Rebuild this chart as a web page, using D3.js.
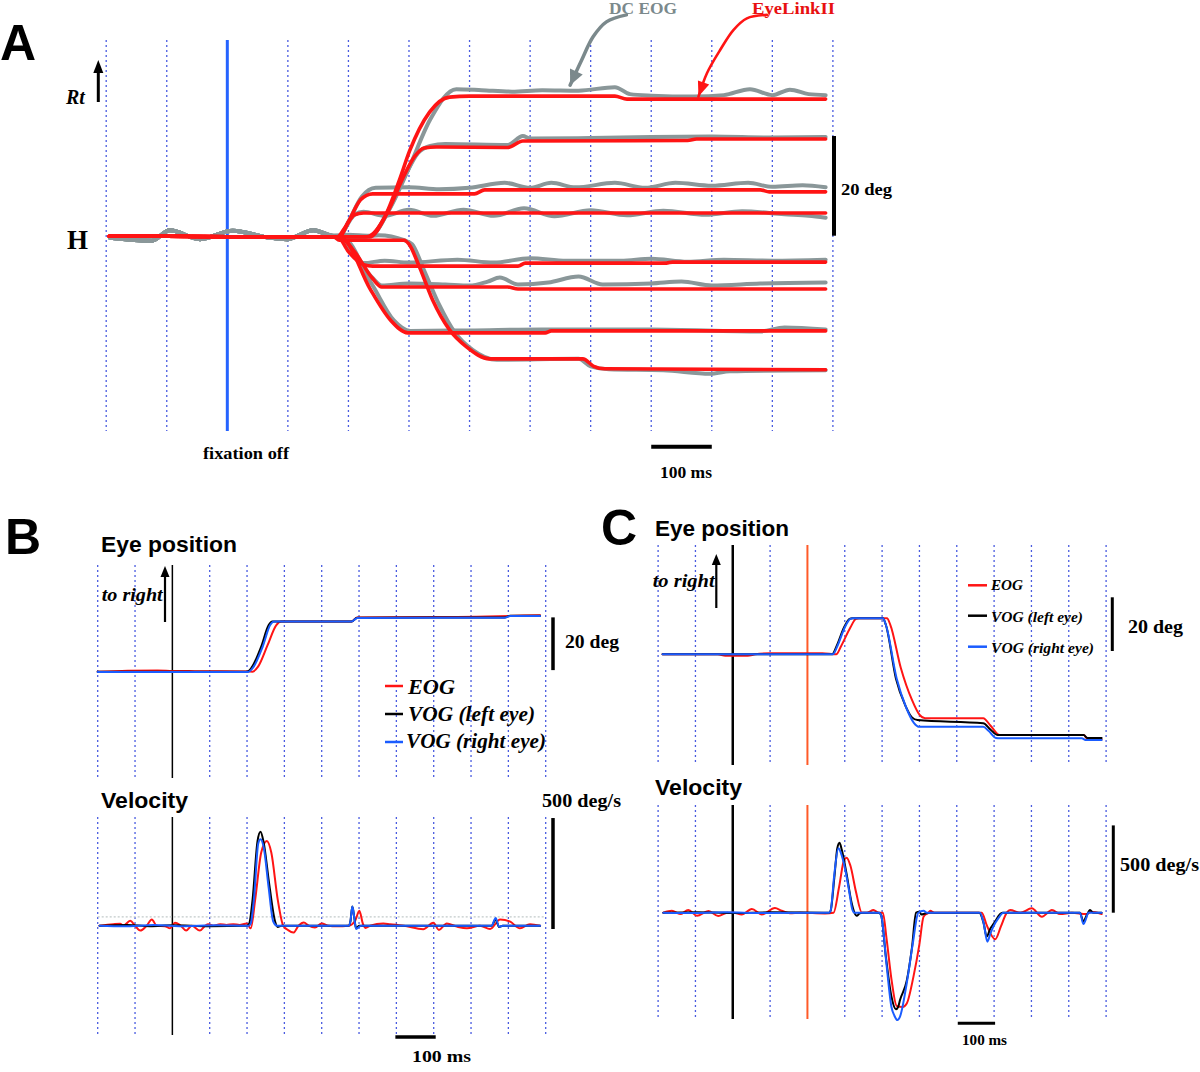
<!DOCTYPE html>
<html>
<head>
<meta charset="utf-8">
<script src="https://cdn.jsdelivr.net/npm/d3@7"></script>
<style>
  body { margin: 0; background: #fff; }
  svg { display: block; }
</style>
</head>
<body>
<script>
// <--Data--> //
// time grid (ms), shared by every panel
const gridTimes = [-200, -100, 0, 100, 200, 300, 400, 500, 600, 700, 800, 900, 1000];

// A: horizontal eye position (deg) vs time from fixation off (ms)
const aEogPre  = [[-194,-0.2],[-125,-0.8],[-95,1.3],[-45,-0.5],[9,1.2],[65,-0.1],[98,-0.5],[142,1.3],[172,0.2]];
const aLinkPre = [[-195,0.1],[-100,0.1],[0,0],[100,0],[175,0]];

const aEyeLink = [
  [[230,0],[260,4],[284,11.3],[301,17.2],[334,25],[367,28.0],[400,28.2],[640,28.2],[660,27.6],[988,27.6]],
  [[235,0],[265,5],[290,11.8],[310,16.2],[325,17.8],[345,18.0],[463,17.9],[488,19.2],[760,19.3],[775,19.6],[988,19.6]],
  [[185,0],[200,3],[220,7.4],[240,8.6],[408,8.6],[425,9.4],[880,9.4],[895,9.0],[988,9.0]],
  [[182,0],[195,2],[210,4.4],[225,4.75],[988,4.75]],
  [[182,0],[200,-3],[225,-5.6],[240,-5.9],[480,-5.9],[492,-5.3],[725,-5.3],[735,-5.1],[988,-5.1]],
  [[185,0],[210,-3],[240,-8.4],[255,-10.1],[463,-10.1],[480,-10.5],[988,-10.5]],
  [[193,-0.6],[235,-10.3],[270,-16.8],[298,-19.3],[525,-19.3],[535,-18.9],[988,-18.9]],
  [[185,-0.7],[292,-0.7],[300,-1.5],[317,-6.0],[339,-12.7],[367,-18.7],[395,-22.1],[433,-24.5],[587,-24.5],[605,-26.0],[623,-26.5],[988,-26.7]]
];

const aDcEog = [
  [[200,0.4],[235,0.2],[270,6],[300,13.8],[335,23.5],[378,29.6],[420,29.4],[470,29.1],[520,29.4],[580,29.3],[640,30.0],[665,28.6],[700,28.3],[770,28.1],[820,28.4],[863,29.6],[900,28.4],[929,29.5],[960,28.6],[988,28.4]],
  [[235,0],[265,5],[292,11.8],[315,16.8],[335,18.2],[360,18.6],[463,18.4],[488,20.2],[500,19.7],[600,19.8],[700,20.0],[800,20.1],[900,19.9],[988,20.0]],
  [[185,0],[200,3],[222,8],[245,9.8],[300,9.9],[350,9.5],[400,9.8],[458,10.8],[500,9.8],[535,10.8],[575,9.9],[640,10.8],[690,9.8],[740,10.8],[800,10.2],[860,10.8],[900,10.0],[950,10.3],[988,9.9]],
  [[182,0],[210,4.4],[225,5.0],[260,4.2],[300,5.4],[340,4.2],[390,5.4],[440,4.2],[490,5.7],[540,4.1],[600,5.3],[660,4.3],[720,5.2],[790,4.4],[850,5.1],[920,4.5],[960,4.2],[988,3.8]],
  [[182,0],[225,-5.3],[260,-4.8],[300,-5.2],[380,-4.6],[440,-5.2],[500,-4.3],[560,-4.8],[650,-4.8],[700,-4.4],[760,-5.0],[820,-4.6],[900,-4.8],[988,-4.6]],
  [[185,0],[240,-8.3],[255,-9.8],[300,-9.4],[360,-9.6],[400,-9.8],[430,-9.0],[450,-8.2],[480,-9.6],[530,-9.2],[580,-8.0],[620,-9.6],[700,-9.4],[750,-9.0],[800,-9.8],[880,-9.4],[988,-9.2]],
  [[190,0],[240,-9.8],[275,-16.8],[302,-18.9],[400,-18.8],[520,-18.6],[700,-18.6],[880,-19.0],[920,-18.2],[988,-18.6]],
  [[200,-0.4],[250,0.3],[292,-0.7],[305,-1.5],[325,-6.8],[350,-13.7],[375,-19.1],[405,-22.7],[445,-24.7],[580,-24.5],[600,-26.0],[630,-26.6],[720,-26.8],[797,-27.5],[830,-27.0],[988,-26.8]]
];

// A: label arrows (ms, deg)
const aEogArrow  = [[659,44.5],[626,43.1],[604,40.1],[585,35.4],[566,30.4]];
const aLinkArrow = [[891,44.5],[858,43.8],[836,41.5],[814,37.5],[792,32.8],[778,28.1]];

// B: eye position (deg) and velocity (deg/s)
const bPosEog  = [[-200,0],[-120,0.4],[-40,0.5],[0,0.3],[60,0.2],[200,0.1],[215,0],[230,2],[255,10],[278,17.5],[292,18.9],[480,18.9],[495,20.5],[700,20.6],[985,21.3]];
const bPosVogL = [[-200,0],[200,0],[212,1.5],[238,9.5],[258,17.6],[268,18.9],[480,18.9],[495,20.4],[890,20.5],[905,21.1],[985,21.1]];
const bPosVogR = [[-200,-0.1],[203,-0.1],[216,1.5],[242,9.5],[262,17.6],[273,18.9],[480,18.9],[495,20.3],[890,20.4],[905,21.0],[985,21.0]];

const bVelEog  = [[-195,0],[-158,7],[-140,9],[-131,0],[-113,22],[-100,0],[-86,-22],[-69,0],[-55,28],[-42,0],[-20,-2],[-6,-12],[7,13],[21,2],[37,-22],[52,0],[74,-22],[88,0],[96,7],[110,0],[128,7],[145,3],[163,7],[180,3],[199,10],[210,-12],[222,120],[238,330],[253,382],[265,330],[282,120],[297,0],[310,-20],[324,-31],[338,0],[352,14],[365,0],[382,-8],[400,10],[418,0],[440,-3],[472,0],[489,20],[501,67],[510,10],[517,-10],[530,0],[565,10],[583,7],[620,0],[672,-16],[699,13],[714,-19],[735,10],[762,-4],[789,-12],[824,0],[851,-15],[878,28],[905,18],[931,-12],[958,7],[985,0]];
const bVelVogL = [[-195,0],[-120,3],[-60,-2],[0,2],[100,-2],[200,0],[206,10],[215,120],[228,380],[236,423],[244,380],[260,180],[275,20],[282,-6],[292,0],[472,0],[477,20],[482,86],[487,40],[492,-12],[500,0],[855,0],[866,28],[875,-6],[885,0],[985,0]];
const bVelVogR = [[-195,0],[-130,-3],[-50,3],[20,-2],[120,2],[205,0],[210,10],[219,130],[230,370],[236,389],[245,350],[258,170],[270,20],[280,0],[472,0],[477,20],[482,86],[487,40],[492,-15],[502,-3],[507,0],[855,0],[866,35],[875,-5],[885,0],[985,0]];
const bVelThreshold = 40;

// C: eye position (deg) and velocity (deg/s)
const cPosEog  = [[-188,0],[-40,0],[-20,-0.5],[40,-0.5],[60,0],[100,0.4],[240,0.4],[277,0],[290,3],[315,10],[330,13.2],[338,13.4],[413,13.4],[422,11],[450,-5],[480,-17],[500,-22.5],[515,-23.8],[671,-23.8],[690,-26.5],[715,-30.1],[940,-30.1],[950,-31.5],[988,-31.7]];
const cPosVogL = [[-188,0],[266,0],[278,3],[298,10],[313,13.2],[320,13.4],[402,13.4],[410,11],[437,-9],[462,-19],[480,-23.5],[495,-24.5],[671,-25.7],[690,-28],[710,-30.1],[940,-30.1],[950,-31.2],[988,-31.2]];
const cPosVogR = [[-188,0],[268,0],[280,3],[300,10],[315,13.2],[322,13.4],[402,13.4],[410,11],[439,-9],[465,-20],[485,-25.5],[500,-27],[671,-27],[685,-28.5],[705,-31.2],[716,-31.3],[935,-31.3],[945,-31.9],[988,-31.9]];

const cVelEog  = [[-186,0],[-163,11],[-141,-8],[-119,15],[-96,-17],[-65,10],[-39,-19],[-15,0],[2,0],[24,-11],[51,21],[78,-10],[113,27],[131,11],[153,-3],[180,0],[247,-4],[270,0],[285,150],[298,300],[305,315],[315,270],[330,120],[346,0],[360,0],[377,15],[390,0],[402,0],[412,-150],[425,-380],[439,-534],[455,-540],[466,-520],[484,-366],[500,-180],[511,-23],[524,0],[529,11],[540,0],[667,0],[680,-70],[703,-152],[718,-80],[734,0],[743,15],[770,0],[801,25],[828,-23],[855,15],[877,-8],[908,0],[948,-8],[960,5],[988,-8]];
const cVelVogL = [[-186,0],[-100,3],[0,-2],[100,2],[258,0],[262,10],[272,200],[280,370],[286,401],[292,360],[305,220],[318,60],[326,0],[332,-18],[340,-3],[348,0],[392,0],[398,-20],[410,-250],[425,-480],[437,-553],[443,-540],[448,-500],[466,-390],[480,-200],[491,0],[500,5],[505,-10],[515,-5],[530,0],[660,0],[672,-60],[680,-137],[690,-90],[700,-60],[715,-10],[722,0],[930,0],[939,-50],[948,-15],[957,15],[965,0],[988,0]];
const cVelVogR = [[-186,0],[-120,-2],[-20,2],[80,-2],[258,0],[262,10],[272,220],[283,369],[290,340],[300,260],[312,120],[320,20],[326,0],[392,0],[398,-20],[412,-300],[425,-540],[433,-590],[441,-615],[448,-595],[466,-404],[482,-180],[497,0],[511,11],[520,0],[662,0],[672,-60],[682,-166],[690,-120],[698,-80],[712,-30],[725,0],[930,0],[939,-65],[947,-30],[952,0],[988,0]];

// <--Setup--> //
const SERIF = "'Liberation Serif','Times New Roman',serif";
const SANS = "'Liberation Sans',Arial,sans-serif";
const RED = "#ff1414", BLUE = "#1a5cff", GRAY = "#8a9799", GRIDC = "#4a5ce0";

const svg = d3.select("body").append("svg").attr("width", 1200).attr("height", 1072);
svg.append("rect").attr("width", 1200).attr("height", 1072).attr("fill", "#fff");

function txt(x, y, s, o) {
  let t = svg.append("text").attr("x", x).attr("y", y).text(s)
    .attr("font-family", o.family || SERIF).attr("font-size", o.size)
    .attr("font-weight", o.weight || "bold").attr("font-style", o.style || "normal")
    .attr("fill", o.fill || "#000");
  if (o.len) t.attr("textLength", o.len).attr("lengthAdjust", "spacingAndGlyphs");
  return t;
}

function trace(g, data, x, y, color, w) {
  g.append("path").datum(data)
    .attr("d", d3.line().x(d => x(d[0])).y(d => y(d[1])).curve(d3.curveMonotoneX))
    .attr("fill", "none").attr("stroke", color).attr("stroke-width", w)
    .attr("stroke-linejoin", "round").attr("stroke-linecap", "round");
}

function grid(x, y0, y1, solid) {
  svg.append("g").selectAll("line").data(gridTimes.filter(t => !(t in solid))).enter().append("line")
    .attr("x1", d => x(d)).attr("x2", d => x(d)).attr("y1", y0).attr("y2", y1)
    .attr("stroke", GRIDC).attr("stroke-width", 1.3).attr("stroke-dasharray", "2,3");
  for (let t in solid) {
    svg.append("line").attr("x1", x(+t)).attr("x2", x(+t)).attr("y1", y0).attr("y2", y1)
      .attr("stroke", solid[t][0]).attr("stroke-width", solid[t][1]);
  }
}

function bar(x1, y1, x2, y2, w) {
  svg.append("line").attr("x1", x1).attr("y1", y1).attr("x2", x2).attr("y2", y2)
    .attr("stroke", "#000").attr("stroke-width", w);
}

function upArrow(x, yb, yt, w, hw, hh) {
  bar(x, yb, x, yt + hh - 2, w);
  svg.append("path").attr("d", `M${x},${yt}L${x - hw / 2},${yt + hh}L${x + hw / 2},${yt + hh}Z`).attr("fill", "#000");
}

// <--Panel A--> //
const xA = d3.scaleLinear().domain([-200, 1000]).range([106.2, 832.9]);
const yA = d3.scaleLinear().domain([0, 20]).range([236.7, 137.0]);
grid(xA, 40, 431, {0: ["#2563ff", 3]});

const gA = svg.append("g");
aDcEog.forEach(tr => trace(gA, aEogPre.concat(tr), xA, yA, GRAY, 4));
aEyeLink.forEach(tr => trace(gA, aLinkPre.concat(tr), xA, yA, RED, 3.6));

function labelArrow(pts, color, w, hl, hwid) {
  let p = pts.map(d => [xA(d[0]), yA(d[1])]);
  svg.append("path").attr("d", d3.line().curve(d3.curveCatmullRom)(p))
    .attr("fill", "none").attr("stroke", color).attr("stroke-width", w).attr("stroke-linecap", "round");
  let [a, b] = [p[p.length - 2], p[p.length - 1]];
  let dx = b[0] - a[0], dy = b[1] - a[1], L = Math.hypot(dx, dy);
  dx /= L; dy /= L;
  let bx = b[0] - dx * hl, by = b[1] - dy * hl;
  svg.append("path")
    .attr("d", `M${b[0]},${b[1]}L${bx - dy * hwid},${by + dx * hwid}L${bx + dy * hwid},${by - dx * hwid}Z`)
    .attr("fill", color);
}
labelArrow(aEogArrow, "#7b898c", 3.5, 15, 7);
labelArrow(aLinkArrow, RED, 2.6, 15, 6);

txt(609, 14, "DC EOG", {size: 16, fill: "#7b898c", len: 68});
txt(752, 14, "EyeLinkII", {size: 16, fill: "#e81010", len: 83});
txt(0, 60, "A", {family: SANS, size: 50});
txt(66, 104, "Rt", {size: 20, style: "italic"});
upArrow(98.3, 102, 60, 3, 10, 13);
txt(67, 249, "H", {size: 27});
txt(203, 459, "fixation off", {size: 16, len: 86});
bar(xA(700), 446.7, xA(800), 446.7, 4);
txt(660, 478, "100 ms", {size: 16, len: 52});
bar(834, yA(20.2), 834, yA(0.2), 4);
txt(841, 195, "20 deg", {size: 17, len: 51});

// <--Panel B--> //
const xB = d3.scaleLinear().domain([-200, 1000]).range([97.7, 545.7]);
const yBpos = d3.scaleLinear().domain([0, 20]).range([671.7, 618.7]);
const yBvel = d3.scaleLinear().domain([0, 500]).range([925.7, 814.7]);
grid(xB, 565, 778, {0: ["#000", 1.5]});
grid(xB, 817, 1035, {0: ["#000", 1.5]});
svg.append("line").attr("x1", xB(-200)).attr("x2", xB(1000)).attr("y1", yBvel(bVelThreshold)).attr("y2", yBvel(bVelThreshold))
  .attr("stroke", "#c2caca").attr("stroke-width", 1.2).attr("stroke-dasharray", "2,2");

const gB = svg.append("g");
trace(gB, bPosEog, xB, yBpos, RED, 2);
trace(gB, bPosVogL, xB, yBpos, "#000", 2);
trace(gB, bPosVogR, xB, yBpos, BLUE, 2);
trace(gB, bVelEog, xB, yBvel, RED, 2);
trace(gB, bVelVogL, xB, yBvel, "#000", 2);
trace(gB, bVelVogR, xB, yBvel, BLUE, 2);

txt(5, 554, "B", {family: SANS, size: 50});
txt(101, 552, "Eye position", {family: SANS, size: 22, len: 136});
txt(101, 808, "Velocity", {family: SANS, size: 22, len: 87});
txt(101.7, 601, "to right", {size: 19, style: "italic", len: 61});
upArrow(165, 622, 566, 2.2, 9, 11);
[["EOG", RED, 686, 694, 408, 47], ["VOG (left eye)", "#000", 714, 721, 408, 127], ["VOG (right eye)", BLUE, 742, 748, 406, 140]]
  .forEach(l => {
    svg.append("line").attr("x1", 385).attr("x2", 403).attr("y1", l[2]).attr("y2", l[2]).attr("stroke", l[1]).attr("stroke-width", 2.5);
    txt(l[4], l[3], l[0], {size: 20, style: "italic", len: l[5]});
  });
bar(553, yBpos(20.5), 553, yBpos(0.6), 3.5);
txt(565, 648, "20 deg", {size: 19, len: 54});
bar(553, yBvel(485), 553, yBvel(-15), 3.5);
txt(542, 807, "500 deg/s", {size: 18, len: 79});
bar(xB(600) - 1, 1037, xB(700) + 2, 1037, 3.5);
txt(412, 1062, "100 ms", {size: 17, len: 59});

// <--Panel C--> //
const xC = d3.scaleLinear().domain([-200, 1000]).range([658.1, 1106.1]);
const yCpos = d3.scaleLinear().domain([0, 20]).range([654.3, 600.6]);
const yCvel = d3.scaleLinear().domain([0, 500]).range([912.7, 825.4]);
grid(xC, 545, 765, {0: ["#000", 2.5], 200: ["#ff5a28", 2]});
grid(xC, 805, 1019, {0: ["#000", 2.5], 200: ["#ff5a28", 2]});

const gC = svg.append("g");
trace(gC, cPosEog, xC, yCpos, RED, 2);
trace(gC, cPosVogL, xC, yCpos, "#000", 2);
trace(gC, cPosVogR, xC, yCpos, BLUE, 2);
trace(gC, cVelEog, xC, yCvel, RED, 2);
trace(gC, cVelVogL, xC, yCvel, "#000", 2);
trace(gC, cVelVogR, xC, yCvel, BLUE, 2);

txt(601, 545, "C", {family: SANS, size: 50});
txt(655, 536, "Eye position", {family: SANS, size: 22, len: 134});
txt(655, 795, "Velocity", {family: SANS, size: 22, len: 87});
txt(652.7, 587, "to right", {size: 19, style: "italic", len: 62});
upArrow(716.3, 608, 554, 2.2, 9, 11);
[["EOG", RED, 585.3, 590, 32], ["VOG (left eye)", "#000", 615.7, 621.7, 92], ["VOG (right eye)", BLUE, 646.7, 653.3, 103]]
  .forEach(l => {
    svg.append("line").attr("x1", 968).attr("x2", 987).attr("y1", l[2]).attr("y2", l[2]).attr("stroke", l[1]).attr("stroke-width", 2.5);
    txt(991, l[3], l[0], {size: 15, style: "italic", len: l[4]});
  });
bar(1112.3, 597.3, 1112.3, 651, 3);
txt(1128, 633, "20 deg", {size: 19, len: 55});
bar(1113.3, yCvel(500), 1113.3, yCvel(0), 3);
txt(1120, 871, "500 deg/s", {size: 18, len: 79});
bar(xC(600) + 1, 1023.3, xC(700) + 1, 1023.3, 3);
txt(962, 1045, "100 ms", {size: 14, len: 45});
</script>
</body>
</html>
